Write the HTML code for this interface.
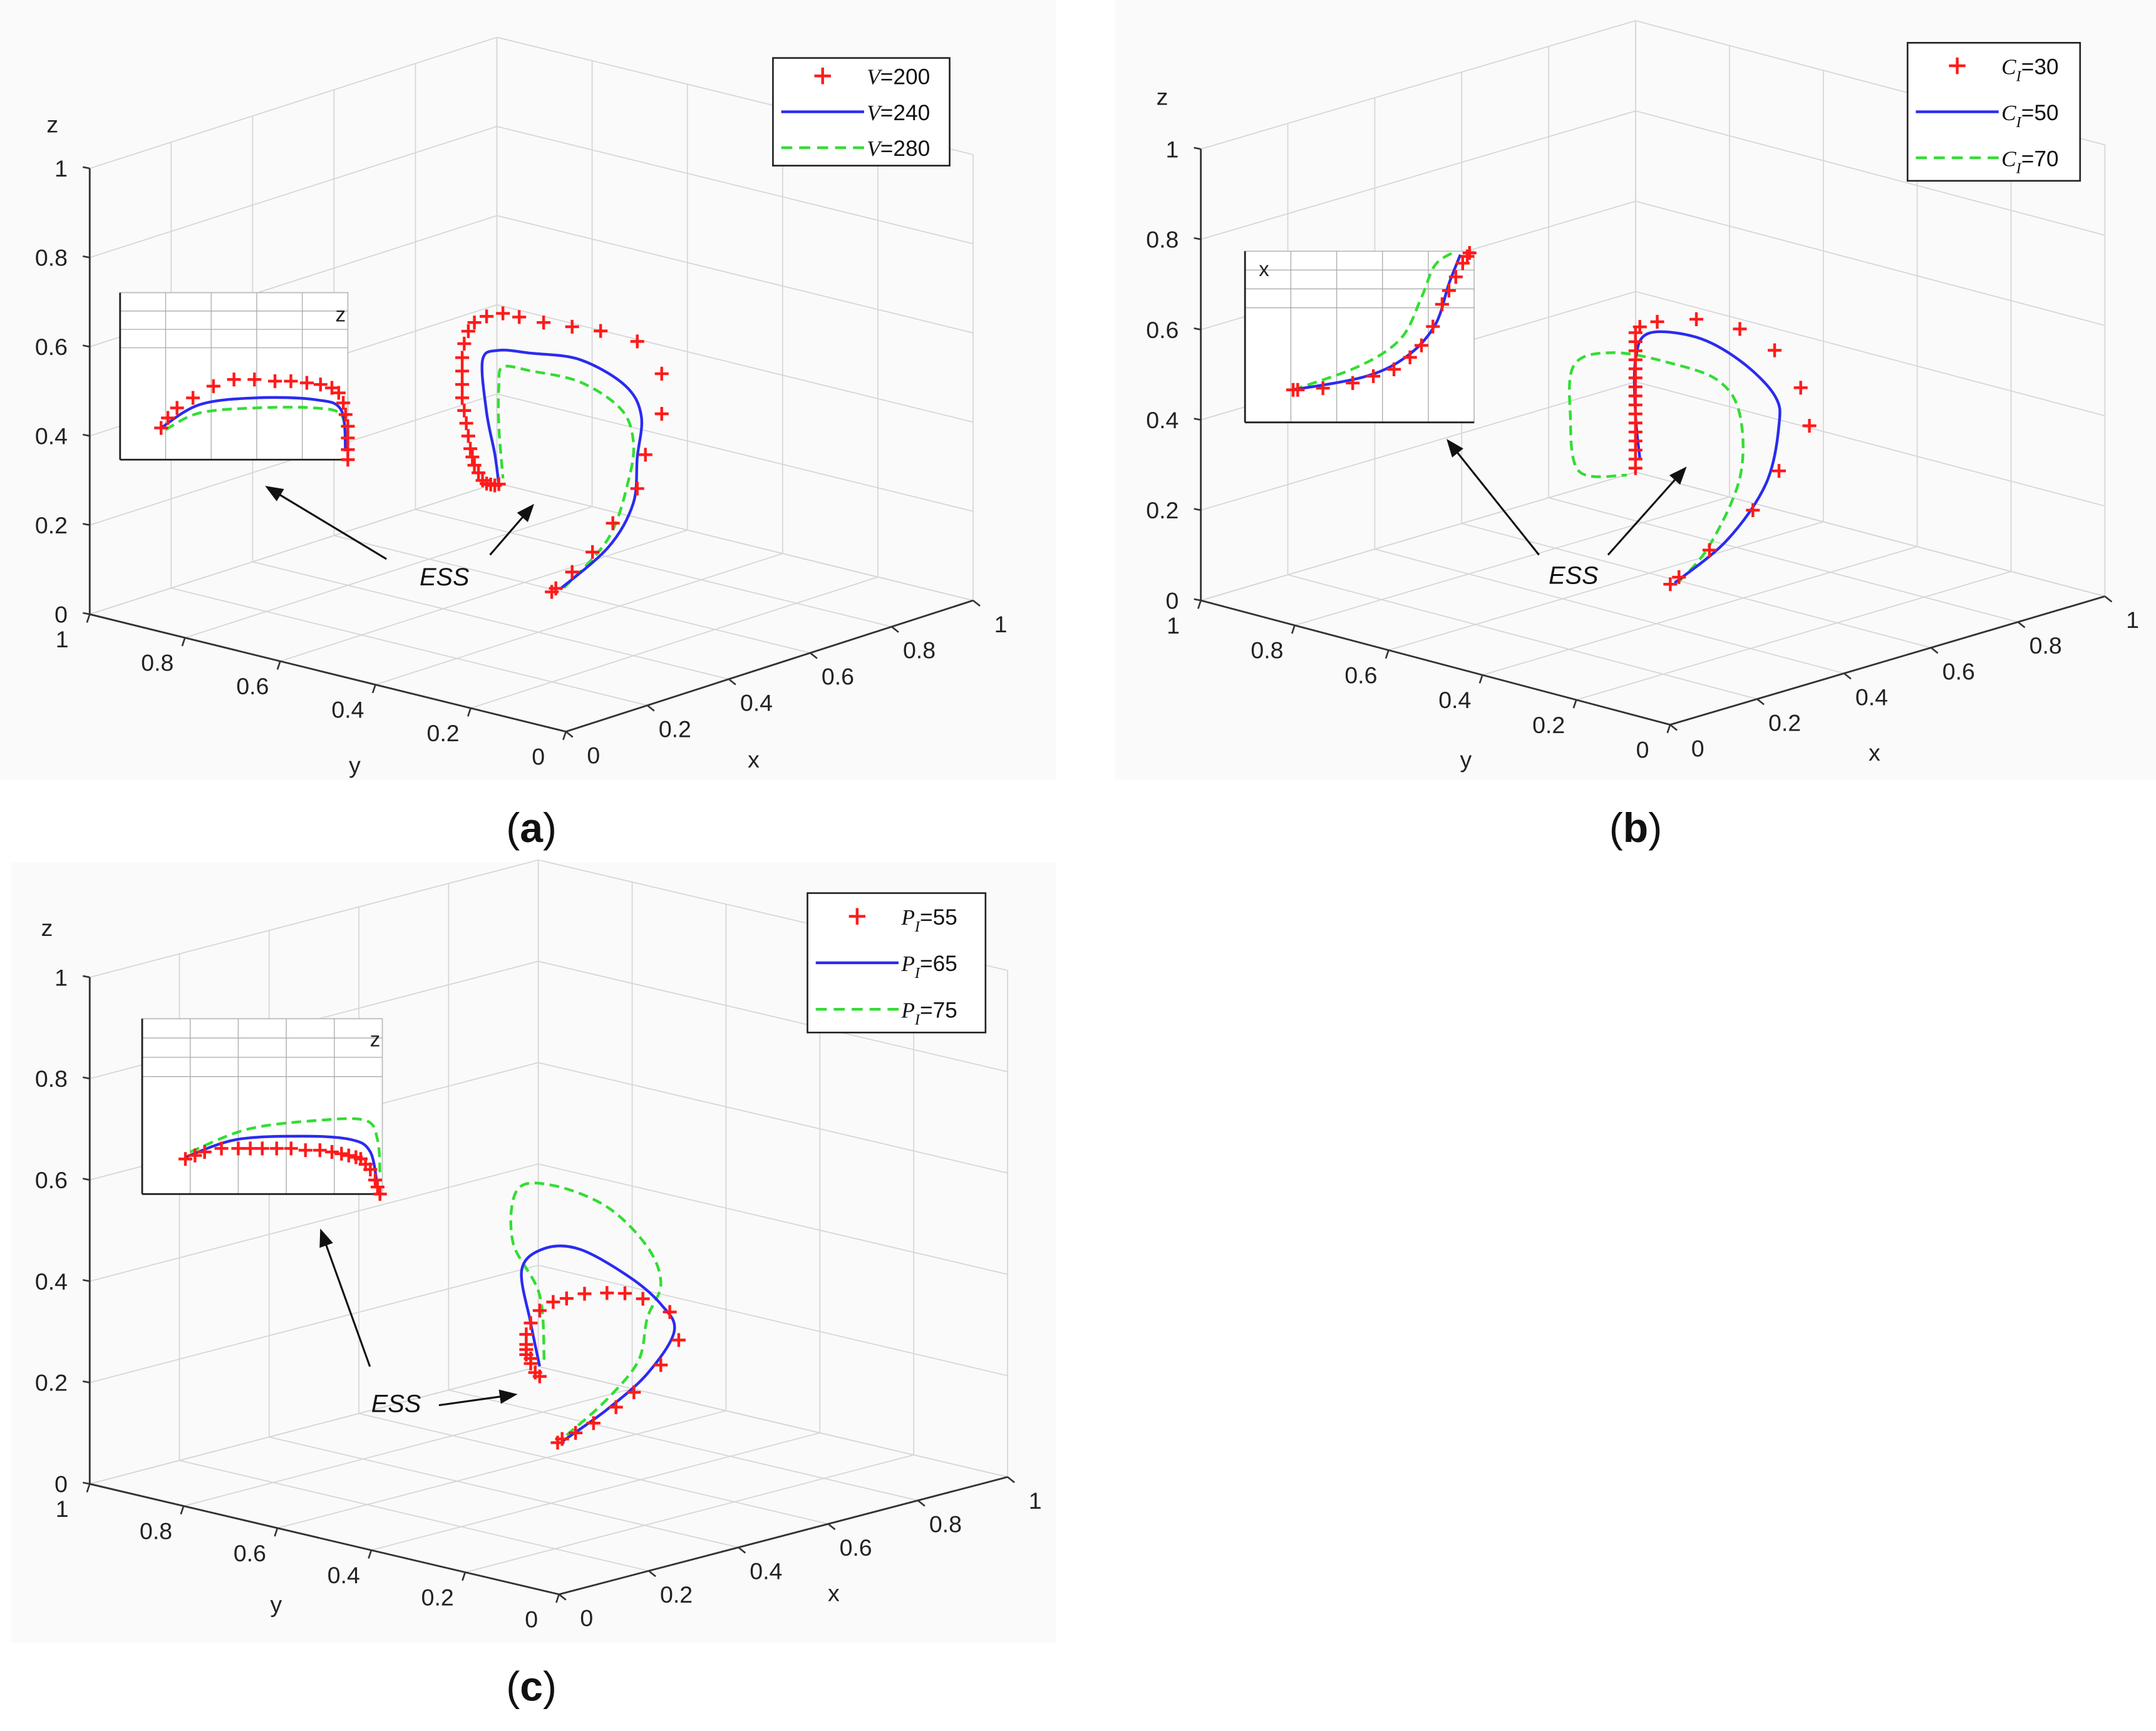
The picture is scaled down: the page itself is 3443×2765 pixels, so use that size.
<!DOCTYPE html>
<html><head><meta charset="utf-8">
<style>
html,body{margin:0;padding:0;background:#fff;}
svg{display:block;}
text{font-family:"Liberation Sans",sans-serif;}
</style></head>
<body>
<svg id="fig" width="3443" height="2765" viewBox="0 0 1562 1254" preserveAspectRatio="none" xmlns="http://www.w3.org/2000/svg">
<rect x="0" y="0" width="1562" height="1254" fill="#ffffff"/>
<rect x="0" y="0" width="765" height="565" fill="#fafafa"/>
<rect x="808" y="0" width="754" height="565" fill="#fafafa"/>
<rect x="8" y="625" width="757" height="565" fill="#fafafa"/>
</svg>
<script>
// ---------- data ----------
const ticks = [0, 0.2, 0.4, 0.6, 0.8, 1];
const tickLabels = ["0", "0.2", "0.4", "0.6", "0.8", "1"];
// panel a (trajectories at y=0.5)
const aRedX = [0.55,0.56,0.60,0.65,0.70,0.76,0.78,0.82,0.82,0.76,0.67,0.60,0.53,0.47,0.43,0.39,0.36,0.345,0.335,0.33,0.33,0.33,0.33,0.335,0.34,0.345,0.35,0.355,0.36,0.37,0.38,0.39,0.40,0.41,0.42];
const aRedZ = [0.02,0.025,0.05,0.08,0.13,0.19,0.26,0.34,0.43,0.52,0.57,0.60,0.63,0.66,0.68,0.685,0.68,0.665,0.64,0.61,0.58,0.55,0.52,0.49,0.46,0.43,0.40,0.38,0.36,0.34,0.32,0.31,0.305,0.30,0.30];
const aBlueX = [0.57,0.69,0.75,0.76,0.77,0.73,0.62,0.50,0.42,0.38,0.39,0.41,0.42];
const aBlueZ = [0.02,0.08,0.16,0.26,0.35,0.43,0.52,0.57,0.60,0.59,0.47,0.37,0.30];
const aGreenX = [0.58,0.69,0.74,0.75,0.72,0.62,0.50,0.43,0.42,0.42,0.43];
const aGreenZ = [0.02,0.10,0.22,0.30,0.38,0.47,0.53,0.56,0.52,0.43,0.31];
// panel b
const bRedX = [0.54,0.56,0.63,0.73,0.79,0.86,0.84,0.78,0.70,0.60,0.51,0.47,0.46,0.46,0.46,0.46,0.46,0.46,0.46,0.46,0.46,0.46,0.46,0.46,0.46,0.46,0.46,0.46];
const bRedZ = [0.02,0.03,0.07,0.13,0.20,0.28,0.37,0.47,0.54,0.59,0.61,0.61,0.60,0.58,0.56,0.54,0.52,0.50,0.48,0.46,0.44,0.42,0.40,0.38,0.36,0.34,0.32,0.30];
const bBlueX = [0.55,0.67,0.76,0.79,0.78,0.70,0.60,0.49,0.46,0.46,0.47];
const bBlueZ = [0.02,0.08,0.18,0.30,0.37,0.47,0.55,0.59,0.54,0.42,0.32];
const bGreenX = [0.56,0.63,0.70,0.70,0.65,0.54,0.41,0.32,0.31,0.33,0.44];
const bGreenZ = [0.02,0.08,0.21,0.35,0.44,0.51,0.57,0.57,0.46,0.33,0.29];
// panel c
const cRedX = [0.52,0.53,0.56,0.60,0.65,0.69,0.75,0.79,0.77,0.71,0.67,0.63,0.58,0.54,0.51,0.48,0.46,0.45,0.45,0.45,0.45,0.46,0.46,0.47,0.48];
const cRedZ = [0.07,0.075,0.08,0.09,0.11,0.13,0.17,0.21,0.27,0.31,0.33,0.34,0.35,0.35,0.35,0.34,0.32,0.30,0.28,0.27,0.26,0.25,0.24,0.22,0.21];
const cBlueX = [0.53,0.63,0.72,0.78,0.75,0.68,0.57,0.49,0.44,0.46,0.48];
const cBlueZ = [0.07,0.11,0.16,0.23,0.29,0.36,0.44,0.46,0.43,0.32,0.23];
const cGreenX = [0.54,0.63,0.70,0.72,0.75,0.72,0.63,0.51,0.43,0.42,0.48,0.49];
const cGreenZ = [0.08,0.13,0.19,0.27,0.33,0.41,0.51,0.58,0.59,0.49,0.37,0.23];
// insets (normalized u, v)
const aInRedU = [0.18,0.21,0.25,0.32,0.41,0.50,0.59,0.68,0.75,0.82,0.88,0.93,0.96,0.98,0.99,1.0,1.0,1.0,1.0];
const aInRedV = [0.19,0.25,0.31,0.37,0.44,0.48,0.48,0.47,0.47,0.46,0.45,0.43,0.40,0.34,0.27,0.20,0.13,0.06,0.0];
const aInBlueU = [0.18,0.35,0.60,0.85,0.97,0.99];
const aInBlueV = [0.19,0.33,0.37,0.36,0.30,0.05];
const aInGreenU = [0.20,0.35,0.60,0.85,0.97,0.99];
const aInGreenV = [0.18,0.28,0.31,0.31,0.27,0.10];
const bInRedU = [0.21,0.23,0.34,0.47,0.56,0.65,0.72,0.77,0.82,0.86,0.89,0.92,0.95,0.97,0.98];
const bInRedV = [0.19,0.19,0.20,0.23,0.27,0.31,0.38,0.45,0.56,0.69,0.77,0.85,0.93,0.97,0.99];
const bInBlueU = [0.21,0.53,0.71,0.83,0.89,0.94];
const bInBlueV = [0.19,0.27,0.39,0.57,0.81,0.98];
const bInGreenU = [0.21,0.50,0.68,0.77,0.83,0.92];
const bInGreenV = [0.19,0.33,0.49,0.73,0.92,1.0];
const cInRedU = [0.18,0.22,0.26,0.33,0.40,0.45,0.50,0.56,0.62,0.68,0.74,0.79,0.83,0.86,0.89,0.91,0.93,0.95,0.97,0.98,0.99];
const cInRedV = [0.20,0.22,0.24,0.26,0.26,0.26,0.26,0.26,0.26,0.25,0.25,0.24,0.23,0.22,0.21,0.20,0.17,0.14,0.08,0.04,0.0];
const cInBlueU = [0.18,0.39,0.67,0.87,0.95,0.98];
const cInBlueV = [0.21,0.31,0.33,0.31,0.24,0.04];
const cInGreenU = [0.20,0.44,0.73,0.93,0.98,0.99];
const cInGreenV = [0.24,0.37,0.42,0.42,0.31,0.12];

const NS = "http://www.w3.org/2000/svg";
const svg = document.getElementById("fig");
function mk(tag, attrs, parent) {
  const e = document.createElementNS(NS, tag);
  for (const k in attrs) e.setAttribute(k, attrs[k]);
  (parent || svg).appendChild(e);
  return e;
}
const RED = "#ff1a1a", BLUE = "#2b2bf0", GREEN = "#33dd33";

function smooth(pts) {
  let d = "M" + pts[0][0].toFixed(1) + "," + pts[0][1].toFixed(1);
  for (let i = 0; i < pts.length - 1; i++) {
    const p0 = pts[Math.max(0, i-1)], p1 = pts[i], p2 = pts[i+1], p3 = pts[Math.min(pts.length-1, i+2)];
    const c1 = [p1[0] + (p2[0]-p0[0])/6, p1[1] + (p2[1]-p0[1])/6];
    const c2 = [p2[0] - (p3[0]-p1[0])/6, p2[1] - (p3[1]-p1[1])/6];
    d += ` C${c1[0].toFixed(1)},${c1[1].toFixed(1)} ${c2[0].toFixed(1)},${c2[1].toFixed(1)} ${p2[0].toFixed(1)},${p2[1].toFixed(1)}`;
  }
  return d;
}

function panel(P, id) {
  const g = mk("g", {});
  
  
  const proj = (x, y, z) => [P.O[0] + x*P.X[0] + y*P.Y[0] + z*P.Z[0], P.O[1] + x*P.X[1] + y*P.Y[1] + z*P.Z[1]];
  const line = (a, b, col, w, name) => {
    const l = mk("line", {x1:a[0], y1:a[1], x2:b[0], y2:b[1], stroke:col, "stroke-width":w}, g);
    
    
  };
  const gc = "#d6d6d6";
  ticks.forEach(t => {
    line(proj(t,0,0), proj(t,1,0), gc, 0.8, 'floor-grid-x');
    line(proj(0,t,0), proj(1,t,0), gc, 0.8, 'floor-grid-y');
    line(proj(t,1,0), proj(t,1,1), gc, 0.8, 'wall-grid-x');
    line(proj(0,1,t), proj(1,1,t), gc, 0.8, 'wall-grid-z');
    line(proj(1,t,0), proj(1,t,1), gc, 0.8, 'wall-grid-y');
    line(proj(1,0,t), proj(1,1,t), gc, 0.8, 'wall-grid-z2');
  });
  line(proj(0,1,0), proj(0,1,1), "#333", 1.3, 'z-axis');
  line(proj(0,1,0), proj(0,0,0), "#333", 1.3, 'y-axis');
  line(proj(0,0,0), proj(1,0,0), "#333", 1.3, 'x-axis');
  ticks.forEach((t, i) => {
    const pz = proj(0,1,t);
    line(pz, [pz[0]-5, pz[1]-1], "#333", 1.2, 'z-tick');
    const tz = mk("text", {x:pz[0]-16, y:pz[1]+6, "font-size":17, "text-anchor":"end", fill:"#222"}, g);
    tz.textContent = tickLabels[i];
    
    
    const py = proj(0,t,0);
    line(py, [py[0]-2, py[1]+6], "#333", 1.2, 'y-tick');
    const ty = mk("text", {x:py[0]-20, y:py[1]+24, "font-size":17, "text-anchor":"middle", fill:"#222"}, g);
    ty.textContent = tickLabels[i];
    
    
    const px = proj(t,0,0);
    line(px, [px[0]+5, px[1]+4], "#333", 1.2, 'x-tick');
    const tx = mk("text", {x:px[0]+20, y:px[1]+23, "font-size":17, "text-anchor":"middle", fill:"#222"}, g);
    tx.textContent = tickLabels[i];
    
    
  });
  const lab = (txt, pos, name) => {
    const t = mk("text", {x:pos[0], y:pos[1], "font-size":17, "text-anchor":"middle", fill:"#222"}, g);
    t.textContent = txt;
    
    
  };
  lab("z", P.zl, 'z-axis-title'); lab("y", P.yl, 'y-axis-title'); lab("x", P.xl, 'x-axis-title');

  const Y0 = 0.5;
  const path = (xs, zs, col, dash, name) => {
    const d = smooth(xs.map((x, i) => proj(x, Y0, zs[i])));
    const e = mk("path", {d, fill:"none", stroke:col, "stroke-width":2, "stroke-dasharray":dash||"none"}, g);
    
    
  };
  const marks = (pts, name) => {
    pts.forEach(p => {
      const e = mk("path", {d:`M${p[0]-5},${p[1]} h10 M${p[0]},${p[1]-5} v10`, stroke:RED, "stroke-width":2}, g);
      
      
    });
  };
  path(P.green[0], P.green[1], GREEN, "7,4", 'series-green-line');
  path(P.blue[0], P.blue[1], BLUE, null, 'series-blue-line');
  marks(P.red[0].map((x, i) => proj(x, Y0, P.red[1][i])), 'series-red-marker');

  const I = P.inset;
  const r = mk("rect", {x:I.x, y:I.y, width:I.w, height:I.h, fill:"#fff", stroke:"#bbb", "stroke-width":0.8}, g);
  
  
  for (let k = 1; k < 5; k++) line([I.x + k*I.w/5, I.y], [I.x + k*I.w/5, I.y + I.h], "#aaa", 0.6, 'inset-grid');
  for (let k = 1; k < 4; k++) line([I.x, I.y + k*I.h*0.11], [I.x + I.w, I.y + k*I.h*0.11], "#aaa", 0.6, 'inset-grid');
  line([I.x, I.y], [I.x, I.y + I.h], "#222", 1.3, 'inset-left-edge');
  line([I.x, I.y + I.h], [I.x + I.w, I.y + I.h], "#222", 1.3, 'inset-bottom-edge');
  const il = mk("text", {x:I.lx, y:I.ly, "font-size":15, fill:"#222"}, g);
  il.textContent = I.label;
  
  
  const ip = (u, v) => [I.x + u*I.w, I.y + I.h - v*I.h];
  const ipath = (us, vs, col, dash, name) => {
    const d = smooth(us.map((u, i) => ip(u, vs[i])));
    const e = mk("path", {d, fill:"none", stroke:col, "stroke-width":2, "stroke-dasharray":dash||"none"}, g);
    
    
  };
  ipath(I.green[0], I.green[1], GREEN, "7,4", 'inset-green-line');
  ipath(I.blue[0], I.blue[1], BLUE, null, 'inset-blue-line');
  marks(I.red[0].map((u, i) => ip(u, I.red[1][i])), 'inset-red-marker');

  P.arrows.forEach(a => {
    const [x1,y1,x2,y2] = a;
    const ang = Math.atan2(y2-y1, x2-x1), L = 14, W = 0.38;
    line([x1,y1], [x2 - Math.cos(ang)*8, y2 - Math.sin(ang)*8], "#111", 1.4, 'ess-arrow-line');
    const pts = [[x2,y2],[x2 - L*Math.cos(ang-W), y2 - L*Math.sin(ang-W)],[x2 - L*Math.cos(ang+W), y2 - L*Math.sin(ang+W)]];
    const h = mk("polygon", {points: pts.map(p => p.join(",")).join(" "), fill:"#111"}, g);
    
    
  });
  const ess = mk("text", {x:P.ess[0], y:P.ess[1], "font-size":18, "font-style":"italic", "font-family":"Liberation Serif, serif", "text-anchor":"middle", fill:"#111"}, g);
  ess.textContent = "ESS";
  
  

  const Lg = P.legend;
  const lr = mk("rect", {x:Lg.x, y:Lg.y, width:Lg.w, height:Lg.h, fill:"#fff", stroke:"#222", "stroke-width":1.2}, g);
  
  
  const step = Lg.h / 3;
  [RED, BLUE, GREEN].forEach((col, i) => {
    const cy = Lg.y + step*(i + 0.5);
    if (i === 0) {
      const m = mk("path", {d:`M${Lg.x+30},${cy} h12 M${Lg.x+36},${cy-6} v12`, stroke:RED, "stroke-width":2}, g);
      
      
    } else {
      const m = mk("line", {x1:Lg.x+6, y1:cy, x2:Lg.x+66, y2:cy, stroke:col, "stroke-width":2, "stroke-dasharray": i===2 ? "8,5" : "none"}, g);
      
      
    }
    const t = mk("text", {x:Lg.x+68, y:cy+6, "font-size":16, fill:"#111"}, g);
    
    
    const s1 = mk("tspan", {"font-style":"italic", "font-family":"Liberation Serif, serif"}, t);
    s1.textContent = Lg.sym;
    if (Lg.sub) {
      const s2 = mk("tspan", {"font-size":11, dy:5, "font-style":"italic", "font-family":"Liberation Serif, serif"}, t);
      s2.textContent = Lg.sub;
      const s3 = mk("tspan", {dy:-5}, t);
      s3.textContent = "=" + Lg.vals[i];
    } else {
      const s3 = mk("tspan", {}, t);
      s3.textContent = "=" + Lg.vals[i];
    }
  });
  const cap = mk("text", {x:P.cap[0], y:P.cap[1], "font-size":30, "font-family":"Liberation Serif, serif", "text-anchor":"middle", fill:"#111"}, g);
  
  
  const c1 = mk("tspan", {}, cap); c1.textContent = "(";
  const c2 = mk("tspan", {"font-weight":"bold"}, cap); c2.textContent = id;
  const c3 = mk("tspan", {}, cap); c3.textContent = ")";
}

panel({O:[410,530], X:[295,-95], Y:[-345,-85], Z:[0,-323],
  zl:[38,96], yl:[257,560], xl:[546,556],
  red:[aRedX,aRedZ], blue:[aBlueX,aBlueZ], green:[aGreenX,aGreenZ],
  inset:{x:87,y:212,w:165,h:121,label:"z",lx:243,ly:233,red:[aInRedU,aInRedV],blue:[aInBlueU,aInBlueV],green:[aInGreenU,aInGreenV]},
  arrows:[[280,405,192,352],[355,402,387,365]], ess:[322,424],
  legend:{x:560,y:42,w:128,h:78,sym:"V",sub:null,vals:["200","240","280"]},
  cap:[385,610]}, "a");

panel({O:[1210,525], X:[315,-93], Y:[-340,-90], Z:[0,-327],
  zl:[842,76], yl:[1062,556], xl:[1358,551],
  red:[bRedX,bRedZ], blue:[bBlueX,bBlueZ], green:[bGreenX,bGreenZ],
  inset:{x:902,y:182,w:166,h:124,label:"x",lx:912,ly:200,red:[bInRedU,bInRedV],blue:[bInBlueU,bInBlueV],green:[bInGreenU,bInGreenV]},
  arrows:[[1115,402,1048,318],[1165,402,1222,338]], ess:[1140,423],
  legend:{x:1382,y:31,w:125,h:100,sym:"C",sub:"I",vals:["30","50","70"]},
  cap:[1185,610]}, "b");

panel({O:[405,1155], X:[325,-85], Y:[-340,-80], Z:[0,-367],
  zl:[34,678], yl:[200,1168], xl:[604,1160],
  red:[cRedX,cRedZ], blue:[cBlueX,cBlueZ], green:[cGreenX,cGreenZ],
  inset:{x:103,y:738,w:174,h:127,label:"z",lx:268,ly:758,red:[cInRedU,cInRedV],blue:[cInBlueU,cInBlueV],green:[cInGreenU,cInGreenV]},
  arrows:[[268,990,232,890],[318,1018,375,1010]], ess:[287,1023],
  legend:{x:585,y:647,w:129,h:101,sym:"P",sub:"I",vals:["55","65","75"]},
  cap:[385,1232]}, "c");
</script>
</body></html>
